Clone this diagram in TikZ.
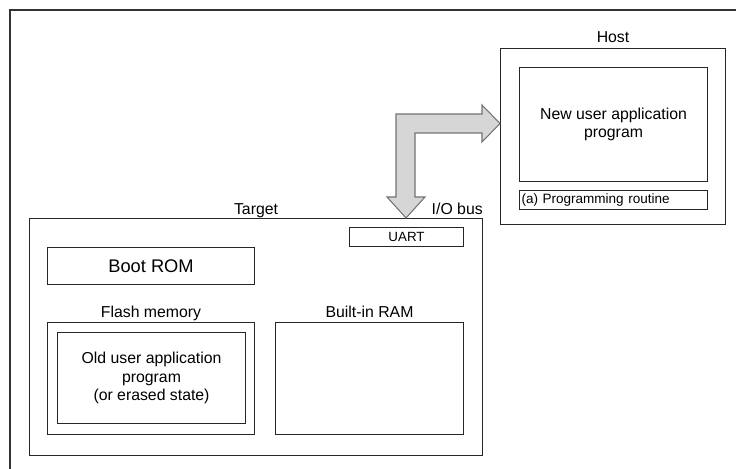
\documentclass[tikz,border=0pt]{standalone}
\usepackage{fontspec}
\setmainfont{Liberation Sans}
\usetikzlibrary{positioning}

\newcommand{\pxl}{0.02cm}

\tikzset{
    box/.style={draw=black!85, line width=0.6pt, inner sep=0pt, anchor=north west, align=center},
    caption/.style={inner sep=0pt, text depth=0pt},
    busarrow/.style={draw=black!55, fill=black!16, line width=0.6pt, line join=miter},
}

\begin{document}
\begin{tikzpicture}[x=\pxl, y=-\pxl, font=\fontsize{9}{10.4}\selectfont]
    \useasboundingbox (0,0) rectangle (736,469);
    \draw[black!80, line width=0.6pt] (736,10) -- (10,10) -- (10,469);

    % target side
    \node (target)  [box, minimum width=453*\pxl, minimum height=237*\pxl] at (29,218)  {};
    \node (uart)    [box, minimum width=114*\pxl, minimum height=19*\pxl, font=\fontsize{7.6}{9}\selectfont] at (349,227) {UART};
    \node (bootrom) [box, minimum width=207*\pxl, minimum height=37*\pxl, font=\fontsize{10.4}{12}\selectfont] at (47,247) {Boot ROM};
    \node (flash)   [box, minimum width=207*\pxl, minimum height=112*\pxl] at (47,322) {};
    \node (oldapp)  [box, minimum width=188*\pxl, minimum height=91*\pxl]  at (57,332) {Old user application\\program\\(or erased state)};
    \node (ram)     [box, minimum width=188*\pxl, minimum height=112*\pxl] at (275,322) {};

    \node (targetlbl) [caption, above=3*\pxl of target]          {Target};
    \node (buslbl)    [caption, above left=3*\pxl and 0pt of target.north east] {I/O bus};
    \node (flashlbl)  [caption, above=4*\pxl of flash]           {Flash memory};
    \node (ramlbl)    [caption, above=4*\pxl of ram]             {Built-in RAM};

    % host side
    \node (host)    [box, minimum width=225*\pxl, minimum height=176*\pxl] at (500,48) {};
    \node (newapp)  [box, minimum width=188*\pxl, minimum height=114*\pxl, font=\fontsize{9}{10}\selectfont] at (519,67) {New user application\\program};
    \node (routine) [box, minimum height=19*\pxl, text width=184*\pxl, inner xsep=2*\pxl, align=left, font=\fontsize{7.7}{9}\selectfont] at (519,190) {(a) Programming routine};
    \node (hostlbl) [caption, above=5*\pxl of host] {Host};

    % bus arrow between host and target
    \draw[busarrow] (396,197) -- (387,197) -- (target.north -| 406,0) -- (425,197) -- (415,197)
        -- (415,133) -- (482,133) -- (482,142) -- (host.west |- 0,123.5) -- (482,105) -- (482,114)
        -- (396,114) -- cycle;
\end{tikzpicture}
\end{document}
